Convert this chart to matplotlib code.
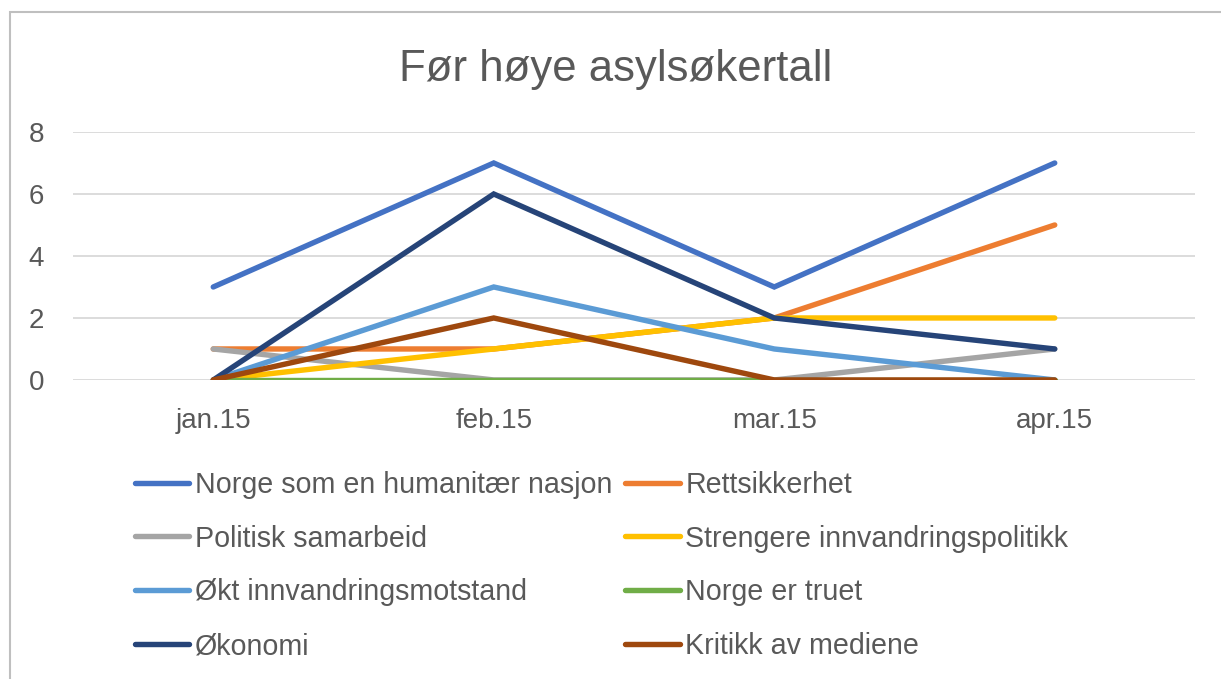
import matplotlib.pyplot as plt
from matplotlib.patches import Rectangle

# data
months = ["jan.15", "feb.15", "mar.15", "apr.15"]
series_names = [
    "Norge som en humanitær nasjon",
    "Rettsikkerhet",
    "Politisk samarbeid",
    "Strengere innvandringspolitikk",
    "Økt innvandringsmotstand",
    "Norge er truet",
    "Økonomi",
    "Kritikk av mediene",
]
humanitaer = [3, 7, 3, 7]
rettsikkerhet = [1, 1, 2, 5]
politisk = [1, 0, 0, 1]
strengere = [0, 1, 2, 2]
motstand = [0, 3, 1, 0]
truet = [0, 0, 0, 0]
okonomi = [0, 6, 2, 1]
kritikk = [0, 2, 0, 0]
all_values = [humanitaer, rettsikkerhet, politisk, strengere,
              motstand, truet, okonomi, kritikk]
colors = ["#4472C4", "#ED7D31", "#A5A5A5", "#FFC000",
          "#5B9BD5", "#70AD47", "#264478", "#9E480E"]

plt.rcParams['font.family'] = ['Liberation Sans', 'DejaVu Sans']
txt = "#595959"

fig = plt.figure(figsize=(12.21, 6.79), dpi=100)
ax = fig.add_axes([0.0598, 0.4404, 0.9189, 0.3652])

x = range(len(months))
handles = []
for name, vals, c in zip(series_names, all_values, colors):
    h, = ax.plot(x, vals, color=c, lw=3.9, label=name,
                 solid_capstyle="round", solid_joinstyle="miter")
    handles.append(h)

ax.set_xlim(-0.5, 3.5)
ax.set_ylim(0, 8)
ax.set_yticks([0, 2, 4, 6, 8])
ax.set_xticks(list(x))
ax.set_xticklabels(months)
ax.yaxis.grid(True, color="#D9D9D9", lw=1.3)
ax.set_axisbelow(True)
for s in ax.spines.values():
    s.set_visible(False)
ax.tick_params(length=0, labelsize=20, colors=txt)
ax.tick_params(axis="y", pad=26.5)
ax.tick_params(axis="x", pad=20)
for lbl in ax.get_yticklabels():
    lbl.set_horizontalalignment("center")

fig.text(0.504, 0.897, "Før høye asylsøkertall", ha="center", va="center",
         fontsize=31.5, color=txt)

# legend is filled row by row in the original
order = [0, 2, 4, 6, 1, 3, 5, 7]
leg = ax.legend([handles[i] for i in order], [series_names[i] for i in order],
                loc="upper left", bbox_to_anchor=(0.045, -0.32), ncol=2,
                frameon=False, fontsize=20.6, handlelength=1.9,
                handletextpad=0.2, columnspacing=0.45, labelspacing=0.9,
                borderaxespad=0)
for t in leg.get_texts():
    t.set_color(txt)

# chart frame, top and left edges visible
fig.patches.append(Rectangle((10 / 1221, -0.1), 1.2, 1 - 12 / 679 + 0.1,
                             transform=fig.transFigure, fill=False,
                             edgecolor="#BFBFBF", lw=1.5))

fig.savefig("out.png", dpi=100)
